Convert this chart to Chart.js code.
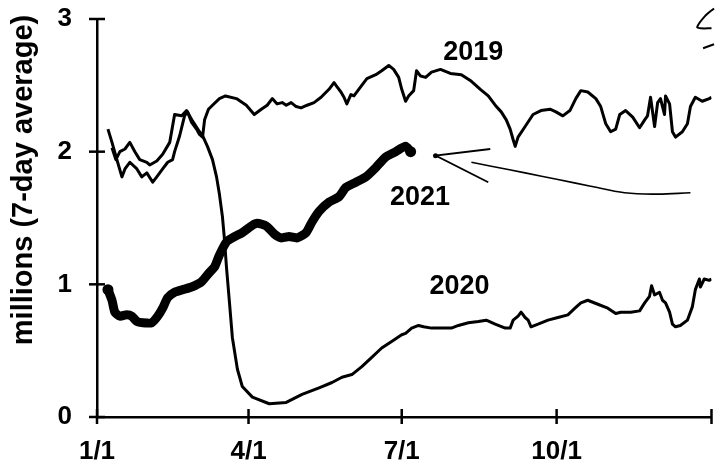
<!DOCTYPE html>
<html><head><meta charset="utf-8">
<script src="https://cdn.jsdelivr.net/npm/chart.js@4"></script>
<style>html,body{margin:0;padding:0;background:#fff}</style>
</head><body>
<canvas id="c" width="717" height="463"></canvas>
<script>
// ---- data (day of year, millions of passengers, 7-day average) ----
const days2019=[6.5,8.9,11.8,14.8,16.6,19.5,23.7,26.6,29.6,33.1,35.5,39.0,42.0,44.9,46.1,49.1,52.0,53.8,56.2,59.1,60.9,62.7,63.9,66.2,68.6,72.7,76.3,82.8,88.7,93.4,97.6,101.1,104.1,107.0,110.0,112.4,115.3,118.3,121.2,124.8,128.9,133.1,137.8,140.8,142.5,144.9,146.7,148.4,150.8,152.6,156.7,160.3,165.6,169.1,173.3,176.2,179.2,181.0,183.3,185.1,188.1,189.8,192.2,195.2,198.7,204.0,209.9,216.4,222.4,227.7,232.4,237.2,240.1,243.1,245.4,247.2,248.4,250.1,254.3,259.0,263.7,269.1,272.6,276.7,280.9,284.4,287.4,291.5,296.3,299.2,302.2,305.1,308.1,310.5,314.0,318.2,322.3,325.3,327.0,328.8,331.2,333.0,334.7,337.1,337.7,340.1,341.8,343.6,347.7,350.7,352.5,355.4,359.5,363.7,365];
const vals2019=[2.17,2.07,1.94,1.81,1.87,1.92,1.87,1.81,1.84,1.77,1.81,1.87,1.92,1.94,2.00,2.12,2.27,2.30,2.22,2.17,2.13,2.11,2.24,2.32,2.35,2.40,2.42,2.40,2.35,2.28,2.32,2.35,2.40,2.36,2.37,2.35,2.37,2.34,2.33,2.35,2.37,2.41,2.47,2.52,2.49,2.45,2.41,2.36,2.43,2.42,2.49,2.55,2.58,2.61,2.65,2.62,2.56,2.47,2.38,2.42,2.46,2.61,2.57,2.56,2.60,2.62,2.59,2.58,2.53,2.47,2.42,2.34,2.30,2.24,2.17,2.09,2.04,2.11,2.19,2.28,2.31,2.32,2.30,2.27,2.31,2.40,2.46,2.45,2.40,2.34,2.21,2.15,2.17,2.28,2.31,2.26,2.18,2.24,2.27,2.41,2.19,2.37,2.40,2.28,2.42,2.36,2.15,2.11,2.15,2.21,2.34,2.41,2.38,2.40,2.41];

const days2020=[8.9,11.2,13.6,16.6,19.5,22.5,25.4,29.6,31.3,35.5,39.0,43.2,46.1,50.3,53.2,56.8,60.9,62.7,65.6,68.6,71.0,72.7,74.5,75.7,76.9,78.7,80.4,83.4,86.3,92.3,102.3,112.4,121.8,131.9,139.6,145.5,151.4,157.3,163.2,169.1,175.0,181.0,183.3,186.9,191.0,194.0,198.7,204.6,210.5,214.7,220.6,226.5,231.2,236.5,242.5,245.4,247.2,250.1,251.9,254.3,256.1,257.8,262.0,267.9,273.8,279.7,283.9,287.4,291.5,297.5,303.4,308.1,311.1,317.0,322.3,325.3,328.2,329.4,331.2,334.1,335.9,337.7,340.1,341.8,343.6,346.5,350.7,353.6,355.4,357.8,358.4,360.7,363.7,365];
const vals2020=[2.03,1.94,2.00,2.02,2.07,2.00,1.94,1.92,1.90,1.93,1.98,2.07,2.28,2.27,2.31,2.23,2.15,2.12,2.04,1.94,1.81,1.68,1.51,1.34,1.13,0.86,0.60,0.36,0.23,0.15,0.10,0.11,0.17,0.22,0.26,0.30,0.32,0.38,0.45,0.52,0.57,0.62,0.63,0.67,0.69,0.68,0.67,0.67,0.67,0.69,0.71,0.72,0.73,0.70,0.67,0.67,0.73,0.76,0.79,0.75,0.73,0.68,0.70,0.73,0.75,0.77,0.82,0.86,0.88,0.85,0.82,0.78,0.79,0.79,0.80,0.86,0.91,0.99,0.92,0.94,0.88,0.86,0.79,0.70,0.68,0.69,0.73,0.83,0.96,1.04,0.98,1.04,1.03,1.04];

const days2021=[6.5,8.9,10.6,13.6,17.7,20.7,23.7,27.2,32.5,36.1,39.0,42.0,46.1,50.9,56.2,62.1,66.8,69.8,72.7,76.9,80.4,86.3,91.7,95.2,100.5,105.3,109.4,114.1,118.9,124.2,127.7,131.9,137.8,143.7,147.8,153.8,159.7,165.6,171.5,177.4,183.3,186.3];
const vals2021=[0.96,0.88,0.79,0.76,0.77,0.76,0.72,0.71,0.71,0.76,0.82,0.90,0.94,0.96,0.98,1.02,1.09,1.13,1.22,1.32,1.35,1.39,1.44,1.46,1.44,1.38,1.35,1.36,1.35,1.39,1.47,1.55,1.62,1.66,1.73,1.77,1.81,1.88,1.96,2.00,2.04,2.00];

// hand-drawn marks on the original
const arrowHeadDays=[233.6,201.1,232.4];
const arrowHeadVals=[2.02,1.97,1.77];
const arrowTailDays=[222.4,234.2,254.3,273.8,293.3,313.4,332.9,352.5];
const arrowTailVals=[1.92,1.89,1.84,1.79,1.74,1.69,1.68,1.69];
const scribbleDays=[366.5,361,356.5,358.5,365];
const scribbleVals=[3.08,3.02,2.94,2.93,2.93];
const scribble2Days=[360,366.5];
const scribble2Vals=[2.78,2.81];

// labels
const seriesLabels=['2019','2020','2021'];
const labelDays=[223.5,215.3,191.9];
const labelVals=[2.75,0.98,1.655];
const xTickDays=[0,90,181,273,365];
const xTickLabels=['1/1','4/1','7/1','10/1',''];
const yTickVals=[0,1,2,3];
const yTitle='millions (7-day average)';

const pts=(d,v)=>d.map((x,i)=>({x:x,y:v[i]}));
const FONT='"Liberation Sans", Arial, Helvetica, sans-serif';

const decor={
  id:'decor',
  afterDraw(chart){
    const {ctx,scales:{x,y}}=chart;
    ctx.save();
    ctx.strokeStyle='#000';ctx.lineWidth=2.5;
    yTickVals.forEach(v=>{const py=y.getPixelForValue(v);ctx.beginPath();ctx.moveTo(x.left-8,py);ctx.lineTo(x.left+8,py);ctx.stroke();});
    xTickDays.forEach(d=>{const px=x.getPixelForValue(d);ctx.beginPath();ctx.moveTo(px,y.bottom-8);ctx.lineTo(px,y.bottom+7);ctx.stroke();});
    ctx.fillStyle='#000';ctx.textAlign='center';ctx.textBaseline='middle';
    ctx.font='bold 27px '+FONT;
    seriesLabels.forEach((t,i)=>ctx.fillText(t,x.getPixelForValue(labelDays[i]),y.getPixelForValue(labelVals[i])));
    ctx.translate(24,180);ctx.rotate(-Math.PI/2);
    ctx.font='bold 29px '+FONT;
    ctx.fillText(yTitle,0,0);
    ctx.restore();
  }
};
const noPad=s=>{s.paddingLeft=0;s.paddingRight=0;s.paddingTop=0;s.paddingBottom=0;};

const last2021=days2021.length-1;
new Chart(document.getElementById('c'),{
  type:'line',
  data:{datasets:[
    {data:pts(days2019,vals2019),borderColor:'#000',borderWidth:3,pointRadius:0,tension:0,borderJoinStyle:'round'},
    {data:pts(days2020,vals2020),borderColor:'#000',borderWidth:3,pointRadius:0,tension:0,borderJoinStyle:'round'},
    {data:pts(arrowHeadDays,arrowHeadVals),borderColor:'#000',borderWidth:1.8,pointRadius:c=>c.dataIndex===1?2.5:0,pointBackgroundColor:'#000',pointBorderWidth:0,tension:0,clip:false},
    {data:pts(arrowTailDays,arrowTailVals),borderColor:'#000',borderWidth:1.6,pointRadius:0,tension:0.4,clip:false},
    {data:pts(scribbleDays,scribbleVals),borderColor:'#000',borderWidth:2,pointRadius:0,tension:0.3,clip:false},
    {data:pts(scribble2Days,scribble2Vals),borderColor:'#000',borderWidth:2,pointRadius:0,tension:0,clip:false},
    {data:pts(days2021,vals2021),borderColor:'#000',borderWidth:9,borderCapStyle:'round',borderJoinStyle:'round',
      pointRadius:c=>(c.dataIndex===0||c.dataIndex===last2021)?5.5:0,pointBackgroundColor:'#000',pointBorderWidth:0,tension:0.2}
  ]},
  options:{
    responsive:false,animation:false,
    layout:{padding:{top:19,right:3,left:0,bottom:0}},
    plugins:{legend:{display:false},tooltip:{enabled:false},title:{display:false}},
    scales:{
      x:{type:'linear',min:0,max:365,
        afterBuildTicks:s=>{s.ticks=xTickDays.map(v=>({value:v}));},
        afterFit:s=>{s.height=46;noPad(s);},
        grid:{display:false,drawTicks:false},
        border:{display:true,color:'#000',width:2.5},
        ticks:{autoSkip:false,maxRotation:0,padding:19,color:'#000',font:{family:FONT,size:26,weight:'bold'},
          callback:v=>{const i=xTickDays.indexOf(v);return i>=0?xTickLabels[i]:'';}}
      },
      y:{min:0,max:3,
        afterBuildTicks:s=>{s.ticks=yTickVals.map(v=>({value:v}));},
        afterFit:s=>{s.width=97;noPad(s);},
        grid:{display:false,drawTicks:false},
        border:{display:true,color:'#000',width:2.5},
        ticks:{padding:25,color:'#000',font:{family:FONT,size:26,weight:'bold'},callback:v=>String(v)}
      }
    }
  },
  plugins:[decor]
});
</script>
</body></html>
